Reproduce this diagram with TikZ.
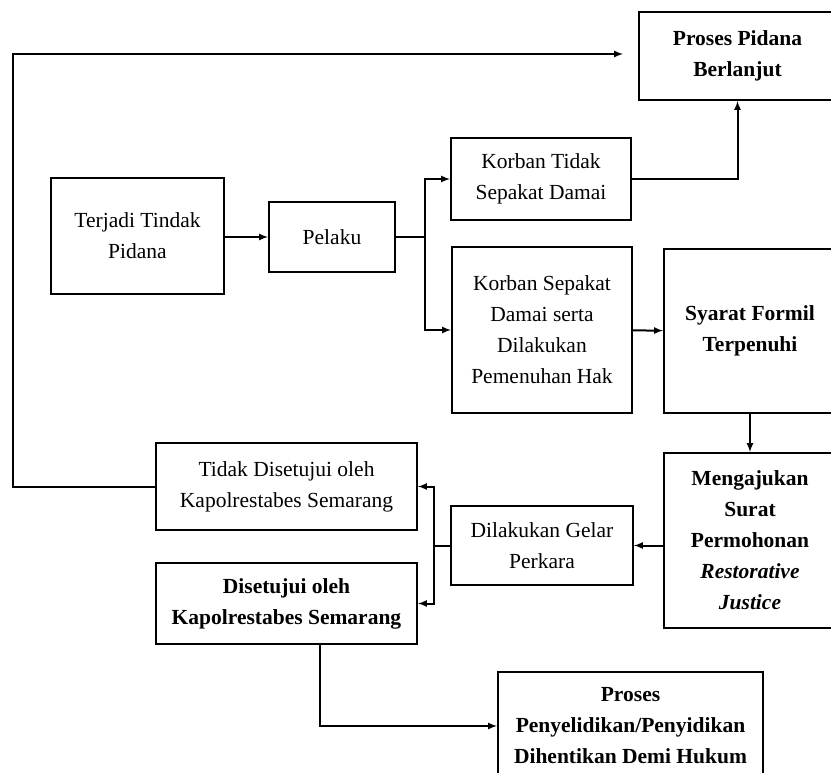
\documentclass[tikz,border=0pt]{standalone}
\usepackage{fontspec}
\setmainfont{Liberation Serif}
\usetikzlibrary{arrows, calc, positioning}

\begin{document}
\begin{tikzpicture}[x=1pt, y=-1pt, line width=2pt, >=latex]
  \tikzstyle{box} = [draw, rectangle, align=center, inner sep=0pt, font=\fontsize{21.5}{31}\selectfont];

  \useasboundingbox (0,0) rectangle (831,773);

  \node[box, minimum width=173, minimum height=115] (terjadi) at (137.5,236) {Terjadi Tindak\\Pidana};
  \node[box, minimum width=126, minimum height=70] (pelaku) at (332,237) {Pelaku};
  \node[box, minimum width=180, minimum height=82] (tidaksepakat) at (541,179) {Korban Tidak\\Sepakat Damai};
  \node[box, minimum width=180, minimum height=166] (sepakat) at (542,330) {Korban Sepakat\\Damai serta\\Dilakukan\\Pemenuhan Hak};
  \node[box, minimum width=197, minimum height=88] (pidana) at (737.5,56) {\bfseries Proses Pidana\\\bfseries Berlanjut};
  \node[box, minimum width=172, minimum height=164] (syarat) at (750,331) {\bfseries Syarat Formil\\\bfseries Terpenuhi};
  \node[box, minimum width=172, minimum height=175] (mengajukan) at (750,540.5) {\bfseries Mengajukan\\\bfseries Surat\\\bfseries Permohonan\\\bfseries\itshape Restorative\\\bfseries\itshape Justice};
  \node[box, minimum width=182, minimum height=79] (gelar) at (542,545.5) {Dilakukan Gelar\\Perkara};
  \node[box, minimum width=261, minimum height=87] (tidaksetuju) at (286.5,486.5) {Tidak Disetujui oleh\\Kapolrestabes Semarang};
  \node[box, minimum width=261, minimum height=81] (setuju) at (286.5,603.5) {\bfseries Disetujui oleh\\\bfseries Kapolrestabes Semarang};
  \node[box, minimum width=265, minimum height=108] (penyelidikan) at (630.5,726) {\bfseries Proses\\\bfseries Penyelidikan/Penyidikan\\\bfseries Dihentikan Demi Hukum};

  \coordinate (split) at ($(pelaku.east)+(29,0)$);
  \coordinate (split2) at ($(gelar.west)+(-16,0)$);
  \coordinate (loop) at (13,54);

  \draw[->] (terjadi.east |- pelaku) -- (pelaku);
  \draw (pelaku.east) -- (split);
  \draw[->] (split) |- (tidaksepakat.west);
  \draw[->] (split) |- (sepakat.west);
  \draw[->] (tidaksepakat) -| (pidana);
  \draw[->] (sepakat) -- (syarat);
  \draw[->] (syarat) -- (mengajukan);
  \draw[->] (mengajukan.west |- gelar.east) -- (gelar.east);
  \draw (gelar.west) -- (split2);
  \draw[->] (split2) |- (tidaksetuju.east);
  \draw[->] (split2) |- (setuju.east);
  \draw[->] (tidaksetuju.west) -| (loop) -- ([xshift=-15]pidana.west |- loop);
  \draw[->] ([xshift=33.5]setuju.south) |- (penyelidikan.west);
\end{tikzpicture}
\end{document}
